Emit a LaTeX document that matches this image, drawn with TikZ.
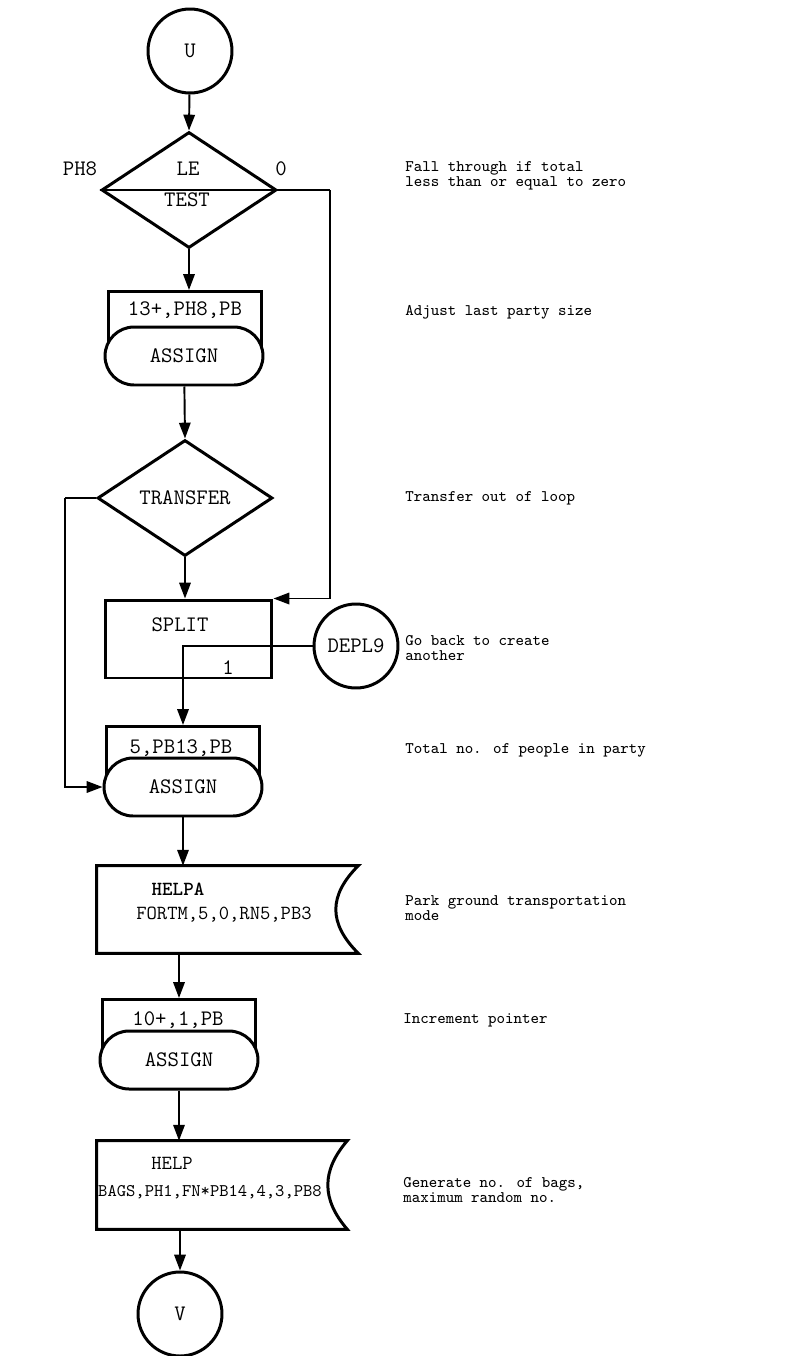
\documentclass[tikz,border=0pt]{standalone}
\usepackage{fontspec}
\usetikzlibrary{arrows.meta,positioning,shapes.geometric,shapes.misc,calc}
\newcommand{\boxfont}{\ttfamily\fontsize{12.6}{14}\selectfont}
\newcommand{\helpfont}{\ttfamily\fontsize{11.4}{13}\selectfont}
\newcommand{\notefont}{\ttfamily\fontsize{9.2}{8.5}\selectfont}
\newcommand{\helpshape}[2]{\draw[line width=1.7pt] (#1.north west) -- (#1.north east)
  .. controls ($(#1.north east)+(-#2,30)$) and ($(#1.south east)+(-#2,-30)$) .. (#1.south east)
  -- (#1.south west) -- cycle;}

\begin{document}
\begin{tikzpicture}[x=0.02cm,y=-0.02cm,font=\boxfont,
  shp/.style={draw,line width=1.7pt,inner sep=0pt},
  term/.style={shp,circle,minimum size=1.68cm},
  decide/.style={shp,diamond,minimum width=3.5cm,minimum height=2.32cm},
  parm/.style={shp,rectangle,anchor=north,minimum width=3.08cm,minimum height=1.3cm},
  stad/.style={shp,rounded rectangle,fill=white,minimum width=3.16cm,minimum height=1.16cm},
  blockbox/.style={shp,rectangle},
  helpbox/.style={rectangle,inner sep=0pt},
  conn/.style={line width=1.1pt,-{Triangle[length=9pt,width=6.5pt]}},
  plain/.style={line width=1.1pt},
  note/.style={font=\notefont,anchor=west,align=left,inner sep=0pt}]
\useasboundingbox (0,0) rectangle (791,1356);

\node[term] (u) at (190,51) {U};
\node[decide] (test) at (189,190) {};
\draw[line width=1.7pt] (test.west) -- (test.east);
\node (test-le) at (188,169) {LE};
\node (test-t) at (187,200) {TEST};
\node (test-ph) at (80,169) {PH8};
\node (test-z) at (281,169) {0};
\coordinate (rt) at (330,190);

\node[parm] (asg1p) at (185,290) {};
\node[stad] (asg1) at (184,356) {ASSIGN};
\node (asg1t) at (185,310) {13+,PH8,PB};

\node[decide] (xfer) at (185,498) {TRANSFER};
\coordinate (lf) at (65,498);

\node[blockbox,minimum width=3.34cm,minimum height=1.56cm] (split) at (188.5,639) {};
\node (split-t) at (180,625) {SPLIT};
\node (split-n) at (228,668) {1};
\node[term] (depl) at (356,646) {DEPL9};

\node[parm] (asg2p) at (183,725) {};
\node[stad] (asg2) at (183,787) {ASSIGN};
\node (asg2t) at (181,748) {5,PB13,PB};

\node[helpbox,minimum width=5.22cm,minimum height=1.74cm] (helpa) at (227.5,909.5) {};
\helpshape{helpa}{30}
\node (helpa-t) at (178,889) {\helpfont\bfseries HELPA};
\node (helpa-a) at (224,915) {\helpfont FORTM,5,0,RN5,PB3};

\node[parm] (asg3p) at (179,998) {};
\node[stad] (asg3) at (179,1060) {ASSIGN};
\node (asg3t) at (178,1020) {10+,1,PB};

\node[helpbox,minimum width=5cm,minimum height=1.76cm] (help) at (222,1185) {};
\helpshape{help}{26}
\node (help-t) at (172,1163) {\helpfont HELP};
\node (help-a) at (210,1192) {\ttfamily\fontsize{10.1}{12}\selectfont BAGS,PH1,FN*PB14,4,3,PB8};

\node[term] (v) at (180,1314) {V};

\draw[conn] (u) -- (test.north);
\draw[conn] (test.south) -- (test.south |- asg1p.north);
\draw[conn] (asg1) -- (xfer.north);
\draw[plain] (test.east) -- (rt);
\draw[conn] (rt) |- (split.north east);
\draw[conn] (xfer.south) -- (xfer.south |- split.north);
\draw[plain] (xfer.west) -- (lf);
\draw[conn] (lf) |- (asg2.west);
\draw[conn] (depl.west) -| (asg2p.north);
\draw[conn] (asg2.south) -- (asg2.south |- helpa.north);
\draw[conn] (asg3p.north |- helpa.south) -- (asg3p.north);
\draw[conn] (asg3.south) -- (asg3.south |- help.north);
\draw[conn] (v.north |- help.south) -- (v.north);

\node[note] (n1) at (405,176) {Fall through if total\\less than or equal to zero};
\node[note] (n2) at (405,312) {Adjust last party size};
\node[note] (n3) at (405,498) {Transfer out of loop};
\node[note] (n4) at (405,648) {Go back to create\\another};
\node[note] (n5) at (405,750) {Total no. of people in party};
\node[note] (n6) at (405,908) {Park ground transportation\\mode};
\node[note] (n7) at (403,1020) {Increment pointer};
\node[note] (n8) at (403,1190) {Generate no. of bags,\\maximum random no.};
\end{tikzpicture}
\end{document}
